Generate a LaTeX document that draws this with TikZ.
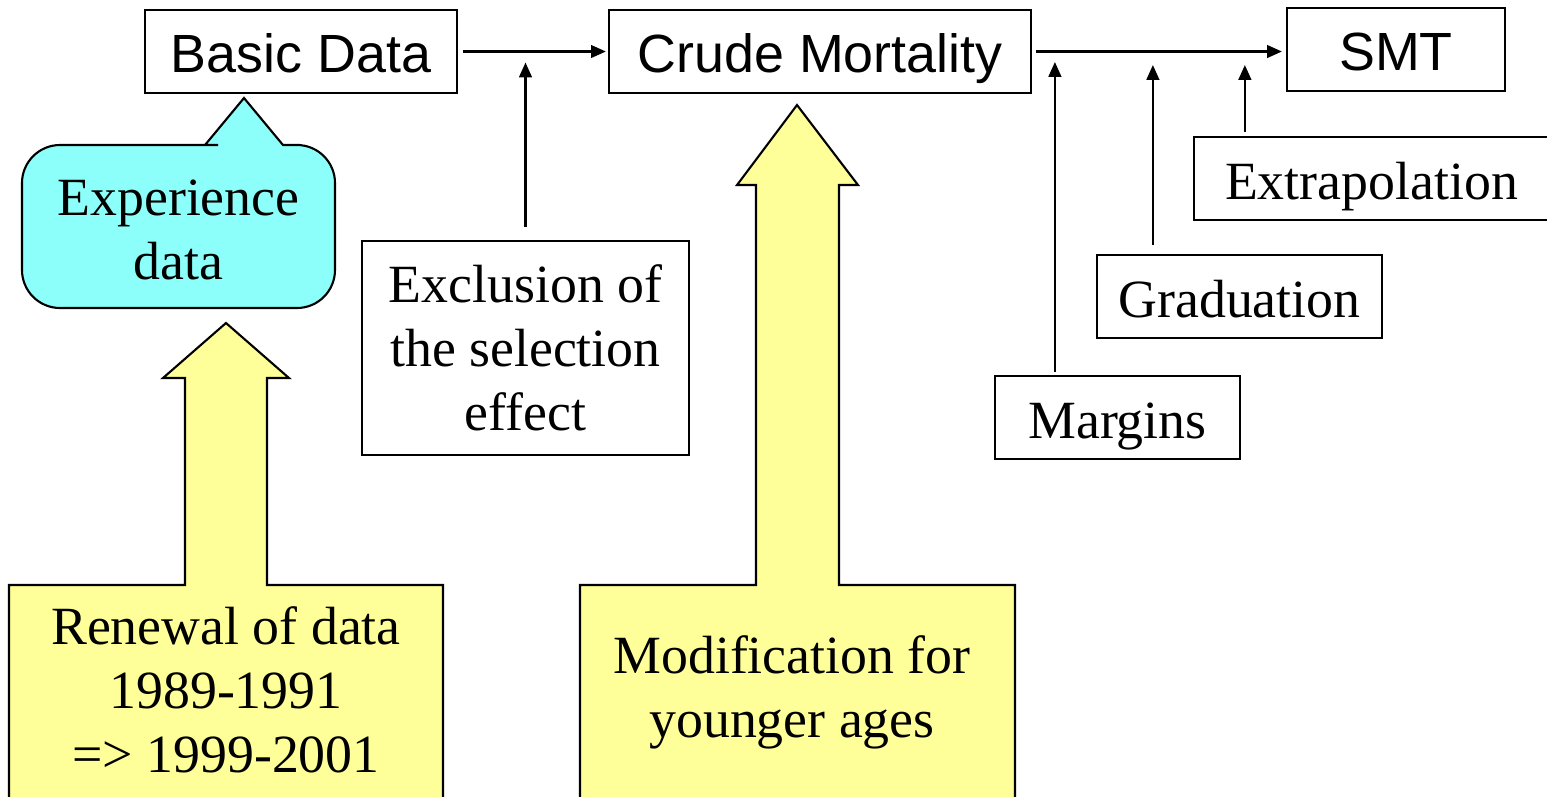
\documentclass[tikz,border=0pt]{standalone}
\usepackage{fontspec}
\setmainfont{Liberation Serif}
\setsansfont{Liberation Sans}
\usepackage{xcolor}
\usetikzlibrary{arrows.meta}
\definecolor{bubblecyan}{RGB}{140,255,250}
\definecolor{noteyellow}{RGB}{255,255,153}

\begin{document}
\begin{tikzpicture}[x=0.01cm, y=-0.01cm, font=\fontsize{15.3}{18.2}\selectfont,
		box/.style={draw, line width=0.6pt, inner sep=0pt, align=center},
		oneline/.style={box, minimum height=0.83cm, text height=12pt, text depth=0pt},
		sans/.style={font=\sffamily\fontsize{15.3}{18.2}\selectfont},
		txt/.style={align=center, inner sep=0pt},
		flow/.style={line width=0.6pt, -{Triangle[length=4.2pt, width=3.6pt]}},
		bubble/.style={draw, line width=0.6pt, fill=bubblecyan},
		bigarrow/.style={draw, line width=0.6pt, fill=noteyellow}]
		\clip (0,0) rectangle (1547,796);
		\node[oneline, sans, minimum width=3.12cm] (basic) at (301,51.5) {Basic Data};
		\node[oneline, sans, minimum width=4.22cm] (crude) at (820,51.5) {Crude Mortality};
		\node[oneline, sans, minimum width=2.18cm] (smt) at (1396,49.5) {SMT};
		\node[box, minimum width=3.27cm, minimum height=2.14cm] (excl) at (525.5,348) {Exclusion of\\the selection\\effect};
		\node[oneline, minimum width=2.45cm] (marg) at (1117.5,417.5) {Margins};
		\node[oneline, minimum width=2.85cm] (grad) at (1239.5,296.5) {Graduation};
		\node[oneline, minimum width=3.55cm] (extra) at (1371.5,178.5) {Extrapolation};
		\draw[flow] ([xshift=0.05cm]basic.east) -- ([xshift=-0.02cm]crude.west);
		\draw[flow] ([xshift=0.04cm]crude.east) -- ([xshift=-0.04cm]crude.east -| smt.west);
		\draw[flow] ([yshift=0.13cm]excl.north) -- ([yshift=-0.11cm]excl.north |- basic.east);
		\coordinate (margFoot) at ([xshift=0.61cm, yshift=0.03cm]marg.north west);
		\coordinate (gradFoot) at ([xshift=0.57cm, yshift=0.09cm]grad.north west);
		\coordinate (extraFoot) at ([xshift=0.52cm, yshift=0.04cm]extra.north west);
		\draw[flow] (margFoot) -- ([yshift=-0.105cm]margFoot |- crude.east);
		\draw[flow] (gradFoot) -- ([yshift=-0.135cm]gradFoot |- crude.east);
		\draw[flow] (extraFoot) -- ([yshift=-0.135cm]extraFoot |- crude.east);
		\draw[bubble] (244,98) -- (283,145) -- (300,145) [rounded corners=0.38cm] -- (335,145) -- (335,308) -- (22,308) -- (22,145) -- (180,145) [sharp corners] -- (205,145) -- cycle;
		\node[txt] (experience) at (178.5,230) {Experience\\data};
		\draw[bigarrow] (9,810) -- (9,585) -- (185,585) -- (185,378) -- (163,378) -- (226,323) -- (289,378) -- (267,378) -- (267,585) -- (443,585) -- (443,810) -- cycle;
		\node[txt] (renewal) at (226,690) {Renewal of data\\1989-1991\\=> 1999-2001};
		\draw[bigarrow] (580,810) -- (580,585) -- (756,585) -- (756,185) -- (737,185) -- (797,105) -- (858,185) -- (839,185) -- (839,585) -- (1015,585) -- (1015,810) -- cycle;
		\node[txt] (younger) at (792,692) {Modification for\\younger ages};
	\end{tikzpicture}
\end{document}
